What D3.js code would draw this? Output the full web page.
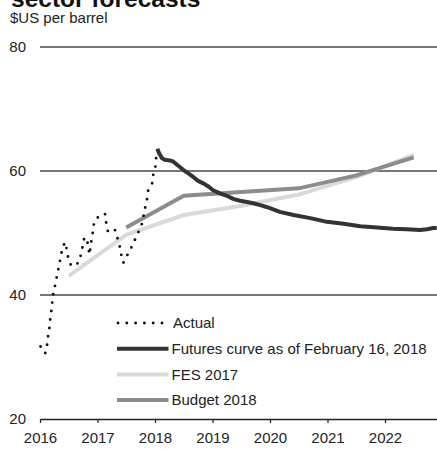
<!DOCTYPE html>
<html>
<head>
<meta charset="utf-8">
<script src="https://cdn.jsdelivr.net/npm/d3@7"></script>
<style>
  html, body { margin: 0; padding: 0; background: #fff; }
  svg { display: block; font-family: "Liberation Sans", Arial, Helvetica, sans-serif; }
</style>
</head>
<body>
<svg id="chart" width="437" height="449"></svg>
<script>
// WTI oil price, $US per barrel (decimal year, value)
const actual = [
  [2016.01,31.7],[2016.09,30.6],[2016.12,31.6],[2016.13,32.9],[2016.16,34.2],[2016.17,35.6],
  [2016.19,36.9],[2016.21,38.4],[2016.22,39.7],[2016.25,41.0],[2016.28,42.4],[2016.31,43.7],
  [2016.34,45.2],[2016.37,46.6],[2016.39,47.7],[2016.44,48.5],[2016.47,47.1],[2016.49,46.0],
  [2016.54,44.7],[2016.61,44.8],[2016.68,45.3],[2016.71,46.5],[2016.74,47.8],[2016.77,49.2],
  [2016.81,49.2],[2016.84,47.8],[2016.86,46.5],[2016.88,47.8],[2016.90,49.2],[2016.93,50.6],
  [2016.94,51.8],[2016.99,52.4],[2017.04,52.7],[2017.13,53.1],[2017.15,51.7],[2017.18,50.3],
  [2017.22,50.5],[2017.25,50.6],[2017.30,50.6],[2017.34,49.4],[2017.38,48.1],[2017.41,46.6],
  [2017.45,45.2],[2017.51,46.3],[2017.58,47.5],[2017.65,48.9],[2017.71,50.1],[2017.77,51.4],
  [2017.83,54.1],[2017.86,55.4],[2017.88,56.8],[2017.95,58.0],[2017.97,59.4],[2018.01,60.8],
  [2018.02,62.2]
];

const futures = [
  [2018.04,63.6],[2018.07,62.9],[2018.12,62.1],[2018.17,61.8],[2018.26,61.7],[2018.32,61.5],
  [2018.41,60.8],[2018.49,60.2],[2018.58,59.6],[2018.67,59.0],[2018.75,58.4],[2018.84,58.0],
  [2018.93,57.5],[2019.01,56.9],[2019.13,56.4],[2019.25,56.0],[2019.36,55.5],[2019.48,55.2],
  [2019.60,55.0],[2019.71,54.8],[2019.83,54.5],[2019.94,54.2],[2020.00,54.0],[2020.17,53.4],
  [2020.41,52.9],[2020.70,52.4],[2020.99,51.8],[2021.28,51.5],[2021.57,51.1],[2021.86,50.9],
  [2022.14,50.7],[2022.38,50.6],[2022.61,50.5],[2022.73,50.6],[2022.84,50.8],[2022.90,50.8]
];

const fes2017 = [
  [2016.5,43.1],[2017.5,49.7],[2018.5,52.9],[2019.5,54.4],[2020.5,56.2],[2021.5,59.0],[2022.5,62.6]
];

const budget2018 = [
  [2017.5,50.9],[2018.5,56.0],[2019.5,56.6],[2020.5,57.2],[2021.5,59.3],[2022.5,62.2]
];

const yearTicks = [2016, 2017, 2018, 2019, 2020, 2021, 2022];
const valueTicks = [20, 40, 60, 80];

const seriesNames = ["Actual", "Futures curve as of February 16, 2018", "FES 2017", "Budget 2018"];

const svg = d3.select("#chart");

const x = d3.scaleLinear().domain([2016, 2016 + 397 / 57.5]).range([40, 437]);
const y = d3.scaleLinear().domain([20, 80]).range([419, 47]);

// Title (last line) and unit label
svg.append("text")
  .attr("x", 11).attr("y", 6.5)
  .attr("font-size", 24.5).attr("font-weight", "bold").attr("fill", "#111")
  .text("sector forecasts");
svg.append("text")
  .attr("x", 10).attr("y", 23)
  .attr("font-size", 15).attr("fill", "#222")
  .text("$US per barrel");

// Horizontal gridlines
svg.append("g")
  .selectAll("line")
  .data(valueTicks.filter(v => v > 20))
  .join("line")
  .attr("x1", x.range()[0]).attr("x2", x.range()[1])
  .attr("y1", d => y(d)).attr("y2", d => y(d))
  .attr("stroke", "#4a4a4a").attr("stroke-width", 1.3);

// Y axis labels
svg.append("g")
  .selectAll("text")
  .data(valueTicks)
  .join("text")
  .attr("x", 26).attr("y", d => y(d))
  .attr("dy", "0.36em")
  .attr("text-anchor", "end")
  .attr("font-size", 15).attr("fill", "#222")
  .text(d => d);

// X axis
const xAxis = svg.append("g")
  .attr("transform", `translate(0,${y(20)})`)
  .call(d3.axisBottom(x).tickValues(yearTicks).tickFormat(d3.format("d")).tickSize(4).tickPadding(9).tickSizeOuter(0));
xAxis.select(".domain").attr("stroke", "#222").attr("stroke-width", 1.3);
xAxis.selectAll(".tick line").attr("stroke", "#222").attr("stroke-width", 1.2);
xAxis.selectAll(".tick text")
  .attr("font-size", 15).attr("fill", "#222")
  .attr("font-family", "'Liberation Sans', Arial, sans-serif");

const line = d3.line().x(d => x(d[0])).y(d => y(d[1]));

// Forecast lines
svg.append("path").datum(fes2017)
  .attr("d", line).attr("fill", "none")
  .attr("stroke", "#d9d9d9").attr("stroke-width", 4);
svg.append("path").datum(budget2018)
  .attr("d", line).attr("fill", "none")
  .attr("stroke", "#8c8c8c").attr("stroke-width", 4);
svg.append("path").datum(futures)
  .attr("d", line).attr("fill", "none")
  .attr("stroke", "#333333").attr("stroke-width", 4)
  .attr("stroke-linejoin", "round");

// Actual prices, dotted
svg.append("path").datum(actual)
  .attr("d", line).attr("fill", "none")
  .attr("stroke", "#111").attr("stroke-width", 2.9)
  .attr("stroke-linecap", "round")
  .attr("stroke-dasharray", "0,8.5");

// Legend
const legendStyles = [
  { stroke: "#111", width: 2.9, dash: "0,8.8", cap: "round" },
  { stroke: "#333333", width: 4, dash: null, cap: "butt" },
  { stroke: "#d9d9d9", width: 4, dash: null, cap: "butt" },
  { stroke: "#8c8c8c", width: 4, dash: null, cap: "butt" }
];
const legend = svg.append("g");
seriesNames.forEach((name, i) => {
  const ly = 323 + i * 25.7;
  const s = legendStyles[i];
  legend.append("line")
    .attr("x1", i === 0 ? 118 : 117).attr("x2", i === 0 ? 166 : 168.5)
    .attr("y1", ly).attr("y2", ly)
    .attr("stroke", s.stroke).attr("stroke-width", s.width)
    .attr("stroke-linecap", s.cap)
    .attr("stroke-dasharray", s.dash);
  legend.append("text")
    .attr("x", i === 0 ? 173 : 171.5).attr("y", ly + 5.3)
    .attr("font-size", 15).attr("fill", "#222")
    .text(name);
});
</script>
</body>
</html>
